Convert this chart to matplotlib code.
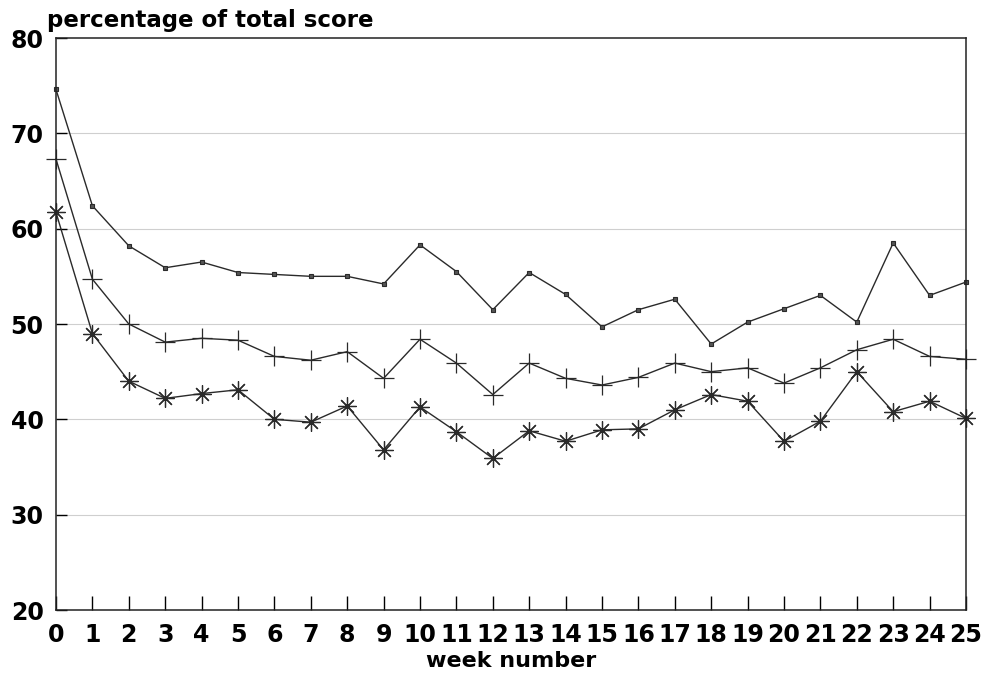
import numpy as np
import matplotlib
matplotlib.use('Agg')
import matplotlib.pyplot as plt

# Wochen und Prozentwerte der drei Gruppen
weeks = np.arange(0, 26)
score_top = [74.6, 62.4, 58.2, 55.9, 56.5, 55.4, 55.2, 55.0, 55.0, 54.2, 58.3, 55.5, 51.5,
             55.4, 53.1, 49.7, 51.5, 52.6, 47.9, 50.2, 51.6, 53.0, 50.2, 58.5, 53.0, 54.4]
score_mid = [67.3, 54.7, 50.0, 48.1, 48.5, 48.3, 46.6, 46.2, 47.1, 44.3, 48.4, 45.9, 42.6,
             45.9, 44.3, 43.6, 44.4, 45.9, 45.0, 45.4, 43.8, 45.4, 47.3, 48.4, 46.6, 46.3]
score_low = [61.7, 49.0, 44.0, 42.2, 42.7, 43.1, 40.0, 39.7, 41.4, 36.8, 41.3, 38.7, 35.9,
             38.8, 37.7, 38.9, 39.0, 41.0, 42.6, 41.9, 37.7, 39.8, 45.0, 40.8, 41.9, 40.1]

x_ticks = list(range(0, 26))
y_ticks = [20, 30, 40, 50, 60, 70, 80]

plt.rcParams.update({
    'font.family': ['DejaVu Sans'],
    'font.weight': 'bold',
})

fig = plt.figure(figsize=(9.88, 6.82), dpi=100)
ax = fig.add_axes([56 / 988, 72 / 682, 910 / 988, 572 / 682])

line_col = '#2a2a2a'
ax.plot(weeks, score_top, color=line_col, lw=1.0, marker='s', markersize=3.5,
        markerfacecolor='#555555', markeredgecolor=line_col, markeredgewidth=0.8, clip_on=False)
ax.plot(weeks, score_mid, color=line_col, lw=1.0, marker='+', markersize=15,
        markeredgewidth=0.9, clip_on=False)
ax.plot(weeks, score_low, color=line_col, lw=1.0, marker=(8, 2, 0), markersize=13,
        markeredgewidth=0.9, clip_on=False)

ax.set_xlim(0, 25)
ax.set_ylim(20, 80)

# helle Gitterlinien nur zwischen den Achsen
for y in y_ticks[1:-1]:
    ax.axhline(y, color='#cfcfcf', lw=0.8, zorder=0)

ax.set_xticks(x_ticks)
ax.set_yticks(y_ticks)
ax.tick_params(axis='x', direction='in', length=10, width=1.0, labelsize=17, pad=9, top=False)
ax.tick_params(axis='y', direction='in', length=8, width=1.0, labelsize=17, pad=9, right=False)

for s in ax.spines.values():
    s.set_linewidth(1.1)
    s.set_color('#222222')

ax.set_xlabel('week number', fontsize=16, fontweight='bold', labelpad=3)
fig.text(47 / 988, 1 - 20 / 682, 'percentage of total score', fontsize=16.5,
         fontweight='bold', ha='left', va='center')

fig.savefig('out.png', dpi=100)
